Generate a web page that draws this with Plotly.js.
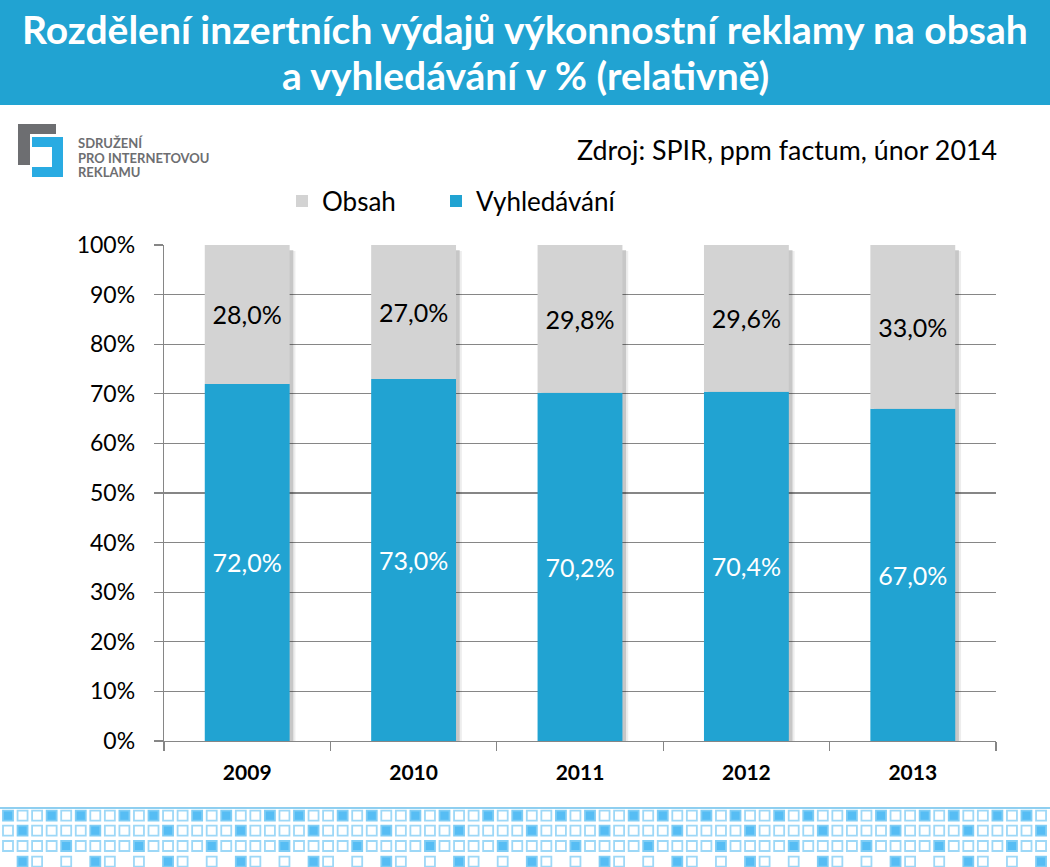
<!DOCTYPE html>
<html>
<head>
<meta charset="utf-8">
<script src="https://cdn.plot.ly/plotly-3.0.1.min.js"></script>
<style>
html,body{margin:0;padding:0;background:#fff;}
#chart{width:1050px;height:867px;}
</style>
</head>
<body>
<div id="chart"></div>
<script>
// ---- data ----
const years = ['2009', '2010', '2011', '2012', '2013'];
const vyhledavani = [72.0, 73.0, 70.2, 70.4, 67.0];
const obsah = [28.0, 27.0, 29.8, 29.6, 33.0];
const seriesNames = ['Obsah', 'Vyhledávání'];
const titleLines = ['Rozdělení inzertních výdajů výkonnostní reklamy na obsah', 'a vyhledávání v % (relativně)'];
const sourceText = 'Zdroj: SPIR, ppm factum, únor 2014';
const logoLines = ['SDRUŽENÍ', 'PRO INTERNETOVOU', 'REKLAMU'];
// decorative footer pattern (F = filled, O = outline, . = empty)
const footerRows = [
  'FOOFOFOOFOFOOFOFOOFOFOOF' + 'OFOOFOFOOFOFOOFOFOOFOFOO' + 'FOFOOFOFOOFOFOOFOFOOFOFO',
  'OFOOOOFOOOOFOOOOFOOOOFOO' + 'OOFOOOOFOOOOFOOOOFOOOOFO' + 'OOOFOOOOFOOOOFOOOOFOOOOF',
  'OOOOFOOOOFOOOOFOOOOFOOOO' + 'FOOOOFOOOOFOOOOFOOOOFOOO' + 'OFOOOOFOOOOFOOOOFOOOOFOO',
  '.FO.O.FO.O.FO.O.FO.O.FO.' + 'O.FO.O.FO.O.FO.O.FO.O.FO' + '.O.FO.O.FO.O.FO.O.FO.O.F'
];

// ---- helpers (page pixels -> paper) ----
const W = 1050, H = 867;
const px = x => x / W;
const py = y => 1 - y / H;

const BLUE = '#21a3d2';
const GREY_BAR = '#d3d3d3';
const GRID = '#868686';
const FONT = 'Lato, "Open Sans", sans-serif';
const barWidth = 0.51;

const totals = vyhledavani.map((v, i) => v + obsah[i]);

const traces = [
  {
    type: 'bar', x: years, y: totals.map(t => t - 1.2), base: 0,
    width: barWidth, offset: -barWidth / 2 + 0.035,
    marker: {color: 'rgba(0,0,0,0.07)'}, showlegend: false, hoverinfo: 'skip'
  },
  {
    type: 'bar', x: years, y: totals.map(t => t - 1), base: 0,
    width: barWidth, offset: -barWidth / 2 + 0.022,
    marker: {color: 'rgba(0,0,0,0.16)'}, showlegend: false, hoverinfo: 'skip'
  },
  {
    type: 'bar', name: seriesNames[1], x: years, y: vyhledavani, base: 0,
    width: barWidth,
    marker: {color: BLUE},
    texttemplate: '%{y:.1f}%', textposition: 'inside', insidetextanchor: 'middle',
    textangle: 0, constraintext: 'none',
    insidetextfont: {family: FONT, size: 25, color: '#ffffff'},
    legend: 'legend2'
  },
  {
    type: 'bar', name: seriesNames[0], x: years, y: obsah, base: vyhledavani,
    width: barWidth,
    marker: {color: GREY_BAR},
    texttemplate: '%{y:.1f}%', textposition: 'inside', insidetextanchor: 'middle',
    textangle: 0, constraintext: 'none',
    insidetextfont: {family: FONT, size: 25, color: '#000000'},
    legend: 'legend'
  }
];

const shapes = [];
// title banner
shapes.push({type: 'rect', xref: 'paper', yref: 'paper', x0: 0, x1: 1, y0: py(105), y1: py(0),
  fillcolor: BLUE, line: {width: 0}, layer: 'below'});

// logo
function pathFrom(points) {
  return 'M' + points.map(p => px(p[0]).toFixed(5) + ',' + py(p[1]).toFixed(5)).join(' L') + ' Z';
}
shapes.push({type: 'path', xref: 'paper', yref: 'paper',
  path: pathFrom([[18,124],[56,124],[56,134],[30,134],[30,165],[18,165]]),
  fillcolor: '#6d6e71', line: {width: 0}});
shapes.push({type: 'path', xref: 'paper', yref: 'paper',
  path: pathFrom([[32,137],[63,137],[63,177],[32,177],[32,167],[52,167],[52,147],[32,147]]),
  fillcolor: '#29abe2', line: {width: 0}});

// footer line
shapes.push({type: 'line', xref: 'paper', yref: 'paper', x0: 0, x1: 1, y0: py(808), y1: py(808),
  line: {color: '#8fcff0', width: 2}});
// footer squares
const rowY = [815.7, 830.7, 846, 861.7];
const sq = 10;
footerRows.forEach((row, r) => {
  for (let k = 0; k < row.length; k++) {
    const c = row[k];
    if (c === '.') continue;
    const cx = 8 + 14.55 * k, cy = rowY[r];
    shapes.push({type: 'rect', xref: 'paper', yref: 'paper',
      x0: px(cx - sq / 2), x1: px(cx + sq / 2), y0: py(cy + sq / 2), y1: py(cy - sq / 2),
      fillcolor: c === 'F' ? '#56bdf4' : 'rgba(0,0,0,0)',
      line: {color: c === 'F' ? '#7fcdf5' : '#9dd8f7', width: 1.8}});
  }
});

const annotations = [];
titleLines.forEach((t, i) => {
  annotations.push({xref: 'paper', yref: 'paper', x: 0.5, y: py(i === 0 ? 29 : 75),
    xanchor: 'center', yanchor: 'middle', showarrow: false, text: '<b>' + t + '</b>',
    font: {family: FONT, size: 39, color: '#ffffff'}});
});
annotations.push({xref: 'paper', yref: 'paper', x: px(999), y: py(150), xanchor: 'right', yanchor: 'middle',
  showarrow: false, text: sourceText, font: {family: FONT, size: 26.8, color: '#000000'}});
const logoY = [143, 158, 172];
logoLines.forEach((t, i) => {
  annotations.push({xref: 'paper', yref: 'paper', x: px(76), y: py(logoY[i]), xanchor: 'left', yanchor: 'middle',
    showarrow: false, text: '<b>' + t + '</b>', font: {family: FONT, size: 13, color: '#6d6e71'}});
});

const legendCommon = {orientation: 'h', y: py(201), xanchor: 'left', yanchor: 'middle',
  font: {family: FONT, size: 26, color: '#000000'}, itemwidth: 30, bgcolor: 'rgba(0,0,0,0)'};

const layout = {
  width: W, height: H,
  margin: {l: 0, r: 0, t: 0, b: 0, pad: 0},
  paper_bgcolor: '#ffffff', plot_bgcolor: '#ffffff',
  barmode: 'overlay',
  separators: ', ',
  showlegend: true,
  legend: Object.assign({}, legendCommon, {x: px(282)}),
  legend2: Object.assign({}, legendCommon, {x: px(436)}),
  xaxis: {
    domain: [px(164), px(996)], type: 'category',
    showgrid: false, showline: true, linecolor: GRID, linewidth: 1.3,
    ticks: 'outside', tickson: 'boundaries', ticklen: 9, tickcolor: GRID, tickwidth: 1.3,
    tickfont: {family: FONT, size: 21, color: '#000000', weight: 'bold'},
    ticklabelstandoff: 12, fixedrange: true
  },
  yaxis: {
    domain: [py(741), py(245)], range: [0, 100], dtick: 10, ticksuffix: '%',
    showgrid: true, gridcolor: GRID, gridwidth: 1.3,
    zeroline: false, showline: true, linecolor: GRID, linewidth: 1.3,
    ticks: 'outside', ticklen: 9, tickcolor: GRID, tickwidth: 1.3,
    tickfont: {family: FONT, size: 23, color: '#000000'},
    ticklabelstandoff: 14, fixedrange: true
  },
  shapes: shapes,
  annotations: annotations,
  hovermode: false
};

Plotly.newPlot('chart', traces, layout, {displayModeBar: false, staticPlot: true});
</script>
</body>
</html>
